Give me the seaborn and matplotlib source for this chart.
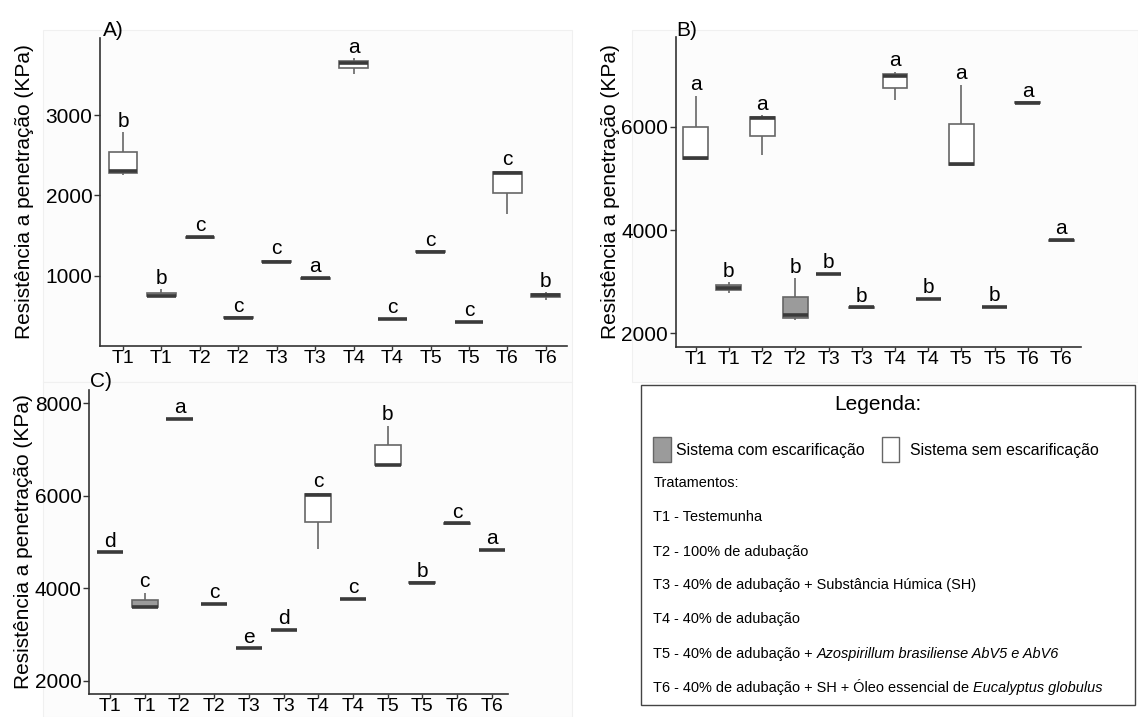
import numpy as np
import pandas as pd
import matplotlib
matplotlib.use("Agg")
import matplotlib.pyplot as plt
import seaborn as sns
from matplotlib.patches import Rectangle
from matplotlib import font_manager as fm

# ---------------- data ----------------
treatments = ["T1", "T1", "T2", "T2", "T3", "T3", "T4", "T4", "T5", "T5", "T6", "T6"]
systems = ["sem", "com"] * 6

# three replicate readings per box (KPa)
reps_A = [[2260, 2300, 2787], [745, 750, 830], [1472, 1478, 1485], [472, 478, 485],
          [1160, 1175, 1200], [962, 966, 972], [3512, 3654, 3708], [455, 460, 468],
          [1295, 1300, 1305], [420, 425, 432], [1771, 2284, 2310], [700, 760, 795]]
letters_A = ["b", "b", "c", "c", "c", "a", "a", "c", "c", "c", "c", "b"]

reps_B = [[5370, 5405, 6600], [2790, 2880, 2985], [5463, 6174, 6230], [2260, 2350, 3070],
          [3140, 3145, 3150], [2495, 2500, 2505], [6517, 6988, 7070], [2655, 2665, 2675],
          [5260, 5283, 6814], [2505, 2512, 2520], [6465, 6471, 6478], [3790, 3806, 3825]]
letters_B = ["a", "b", "a", "b", "b", "b", "a", "b", "a", "b", "a", "a"]

reps_C = [[4770, 4776, 4782], [3580, 3600, 3900], [7655, 7662, 7668], [3648, 3655, 3662],
          [2695, 2700, 2706], [3090, 3095, 3101], [4856, 6012, 6060], [3765, 3771, 3778],
          [6640, 6672, 7513], [4115, 4123, 4131], [5395, 5401, 5407], [4828, 4834, 4840]]
letters_C = ["d", "c", "a", "c", "e", "d", "c", "c", "b", "b", "c", "a"]

yticks_A = [1000, 2000, 3000]
yticks_B = [2000, 4000, 6000]
yticks_C = [2000, 4000, 6000, 8000]

ylabel = "Resistência a penetração (KPa)"
legend_title = "Legenda:"
legend_com = "Sistema com escarificação"
legend_sem = "Sistema sem escarificação"
trat_lines = [
    ("Tratamentos:", None),
    ("T1 - Testemunha", None),
    ("T2 - 100% de adubação", None),
    ("T3 - 40% de adubação + Substância Húmica (SH)", None),
    ("T4 - 40% de adubação", None),
    ("T5 - 40% de adubação +", "Azospirillum brasiliense AbV5 e AbV6"),
    ("T6 - 40% de adubação + SH + Óleo essencial de", "Eucalyptus globulus"),
]

# ---------------- style ----------------
sns.set_theme(style="ticks")
plt.rcParams["font.family"] = ["Liberation Sans", "DejaVu Sans"]

names = {f.name for f in fm.fontManager.ttflist}
has_narrow = "Liberation Sans Narrow" in names
NARROW = ["Liberation Sans Narrow", "Liberation Sans", "DejaVu Sans"] if has_narrow else ["Liberation Sans", "DejaVu Sans"]
nscale = 1.0 if has_narrow else 0.82

W, H = 1138, 717
fig = plt.figure(figsize=(W / 100, H / 100), dpi=100)


def fx(x):
    return x / W


def fy(y):
    return 1 - y / H


def rect(l, t, r, b):
    return [fx(l), fy(b), fx(r) - fx(l), fy(t) - fy(b)]


# faint plot backgrounds (drawn beneath everything)
for (l, t, r, b) in [(43, 30, 572, 382), (632, 30, 1138, 382), (43, 382, 572, 717)]:
    fig.patches.append(Rectangle((fx(l), fy(b)), fx(r) - fx(l), fy(t) - fy(b),
                                 transform=fig.transFigure, facecolor="#fcfcfc",
                                 edgecolor="#f0f0f0", lw=0.8, zorder=-10))

palette = {"com": "#9b9b9b", "sem": "white"}


def panel(box, xlim, ylim, reps, letters, yticks, label, label_px, ylab_right):
    l, t, r, b = box
    ax = fig.add_axes(rect(l, t, r, b))
    ax.set_facecolor("none")
    rows = []
    for i, (s, vals) in enumerate(zip(systems, reps)):
        for v in vals:
            rows.append({"pos": str(i), "sys": s, "val": v})
    df = pd.DataFrame(rows)
    order = [str(i) for i in range(len(treatments))]
    sns.boxplot(data=df, x="pos", y="val", hue="sys", order=order,
                hue_order=["com", "sem"], palette=palette, dodge=False,
                width=0.75, linewidth=1.2, linecolor="#666666", showcaps=False,
                medianprops=dict(color="#3a3a3a", linewidth=2.6),
                legend=False, ax=ax)
    ax.set_xlim(*xlim)
    ax.set_ylim(*ylim)
    ax.set_yticks(yticks)
    ax.set_yticklabels([str(v) for v in yticks])
    ax.set_xticks(range(len(treatments)))
    ax.set_xticklabels(treatments)
    ax.set_xlabel("")
    ax.set_ylabel(ylabel, fontsize=15, color="black")
    ax.yaxis.set_label_coords((ylab_right - l) / (r - l), 0.5)
    for sp in ["top", "right"]:
        ax.spines[sp].set_visible(False)
    for sp in ["left", "bottom"]:
        ax.spines[sp].set_color("#333333")
        ax.spines[sp].set_linewidth(1.2)
    ax.tick_params(axis="y", length=4, width=1, color="#333333", pad=1.5,
                   labelsize=15, labelcolor="black")
    ax.tick_params(axis="x", length=3, width=1, color="#333333", pad=0,
                   labelsize=14, labelcolor="black")
    for i, let in enumerate(letters):
        ax.annotate(let, (i, max(reps[i])), xytext=(0, 4), textcoords="offset points",
                    ha="center", va="baseline", fontsize=15, color="black")
    fig.text(fx(label_px[0]), fy(label_px[1]), label, ha="left", va="center",
             fontsize=15, color="black")
    return ax


panel((100, 38, 567, 346), (-0.6, 11.55), (125, 3962), reps_A, letters_A, yticks_A,
      "A)", (103, 31), 34)
panel((675.7, 36.7, 1081, 346.7), (-0.6, 11.6), (1740, 7750), reps_B, letters_B, yticks_B,
      "B)", (676.7, 30), 620)
panel((89.3, 390, 508, 694), (-0.6, 11.47), (1713, 8287), reps_C, letters_C, yticks_C,
      "C)", (90, 381.7), 33)

# ---------------- legend panel ----------------
lax = fig.add_axes([0, 0, 1, 1])
lax.set_axis_off()
lax.patch.set_visible(False)
lax.set_xlim(0, W)
lax.set_ylim(H, 0)
lax.add_patch(Rectangle((640.7, 385), 1135 - 640.7, 705 - 385, fill=False,
                        edgecolor="#444444", lw=1.0))
lax.text(877.7, 405, legend_title, ha="center", va="center", fontsize=15, color="black")
lax.add_patch(Rectangle((653.3, 436.7), 17.4, 25, facecolor=palette["com"],
                        edgecolor="#666666", lw=1.0))
lax.add_patch(Rectangle((882.3, 436.7), 16.7, 25, facecolor=palette["sem"],
                        edgecolor="#666666", lw=1.0))
lax.text(675.7, 450, legend_com, ha="left", va="center", fontsize=14 * nscale,
         family=NARROW, color="black")
lax.text(910, 450, legend_sem, ha="left", va="center", fontsize=14 * nscale,
         family=NARROW, color="black")

line_y = [483.3, 516.7, 551.7, 585, 619.3, 654, 687.3]
for (txt, ital), yy in zip(trat_lines, line_y):
    t1 = lax.text(653.3, yy, txt, ha="left", va="center", fontsize=12.7 * nscale,
                  family=NARROW, color="black")
    if ital:
        lax.annotate(ital, xy=(1, 0), xycoords=t1, xytext=(4, 0),
                     textcoords="offset pixels", ha="left", va="bottom",
                     fontsize=12.7 * nscale, family=NARROW, fontstyle="italic",
                     color="black")

fig.savefig("out.png", dpi=100)
